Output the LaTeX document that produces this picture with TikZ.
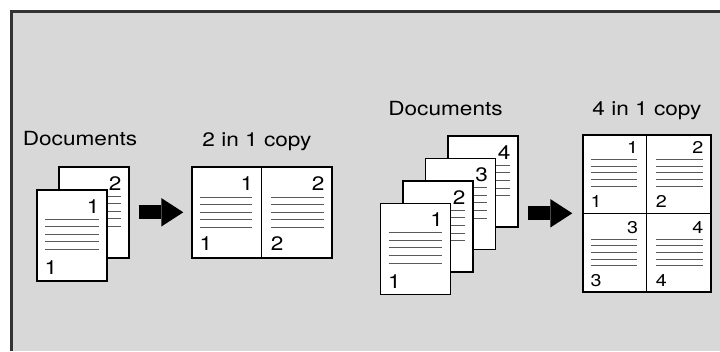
\documentclass[tikz,border=0pt]{standalone}
\usepackage{fontspec}
\setmainfont{TeX Gyre Heros}[FakeStretch=1.16]
\usetikzlibrary{arrows.meta,positioning,calc}
\definecolor{panel}{HTML}{D8D8D8}
\definecolor{frameline}{HTML}{333333}
\definecolor{textline}{HTML}{5A5A5A}
% five text lines and the top page number of one sheet
\newcommand{\sheetmarks}[5]{%
  \foreach \k in {0,...,4}
    \draw[txtline] ([xshift=9pt,yshift={-(#3+#4*\k)*1pt}]#1.north west) -- ([xshift=-9pt,yshift={-(#3+#4*\k)*1pt}]#1.north east);
  \node[#5 top] (#1-top) at (#1.north east) {#2};}
% page number at the foot of a visible sheet
\newcommand{\footnum}[3]{\node[#3 bottom] (#1-bot) at (#1.south west) {#2};}

\begin{document}
\begin{tikzpicture}[x=1pt,y=-1pt,
  docpage/.style={draw=black,line width=1.6pt,fill=white,minimum width=70pt,minimum height=91pt,inner sep=0pt,anchor=north west},
  cellA/.style={minimum width=70pt,minimum height=91pt,inner sep=0pt},
  cellB/.style={minimum width=64pt,minimum height=78.5pt,inner sep=0pt},
  txtline/.style={draw=textline,line width=1pt},
  divider/.style={draw=black,line width=1pt},
  big top/.style={anchor=north east,inner sep=0pt,xshift=-8pt,yshift=-10pt,font=\fontsize{19.5}{20}\selectfont},
  big bottom/.style={anchor=south west,inner sep=0pt,xshift=8.5pt,yshift=6.5pt,font=\fontsize{19.5}{20}\selectfont},
  small top/.style={anchor=north east,inner sep=0pt,xshift=-8pt,yshift=-7.5pt,font=\fontsize{17}{18}\selectfont},
  small bottom/.style={anchor=south west,inner sep=0pt,xshift=8.5pt,yshift=5.5pt,font=\fontsize{17}{18}\selectfont},
  title/.style={anchor=base,inner sep=0pt,font=\fontsize{19.5}{20}\selectfont},
  bigarrow/.style={line width=14.3pt,-{Triangle[length=22pt,width=28.5pt,line width=0pt]},shorten <=9pt}]
\useasboundingbox[fill=white] (0,0) rectangle (720,351);
\fill[panel] (11,11) rectangle (720,351);
\draw[frameline,line width=3pt] (11,351) |- (720,11);
\node[title] (docsA) at (80,145.7) {Documents};
\node[title] (titleA) at (257,146.7) {2 in 1 copy};
\node[title] (docsB) at (445.5,115) {Documents};
\node[title] (titleB) at (647,115) {4 in 1 copy};
% two documents -> 2 in 1 copy
\node[docpage] (docA2) at (58,166) {};
\sheetmarks{docA2}{2}{30}{7.6}{big}
\node[docpage] (docA1) at ([xshift=-22pt,yshift=-23pt]docA2.north west) {};
\sheetmarks{docA1}{1}{30}{7.6}{big}
\footnum{docA1}{1}{big}
\node[docpage,minimum width=140pt] (copyA) at (191,166) {};
\node[cellA,anchor=north west] (copyA1) at (copyA.north west) {};
\node[cellA,anchor=north east] (copyA2) at (copyA.north east) {};
\draw[divider] (copyA.north) -- (copyA.south);
\foreach \c in {1,2}{
  \sheetmarks{copyA\c}{\c}{31}{7.5}{big}
  \footnum{copyA\c}{\c}{big}}
\draw[bigarrow,shorten >=7.7pt] (docA2.east) -- (copyA.west);
% four documents -> 4 in 1 copy
\node[docpage] (docB4) at (447,135) {};
\sheetmarks{docB4}{4}{30}{7.7}{big}
\foreach \i/\j in {3/4,2/3,1/2}{
  \node[docpage] (docB\i) at ([xshift=-22.5pt,yshift=-22.5pt]docB\j.north west) {};
  \sheetmarks{docB\i}{\i}{30}{7.7}{big}}
\footnum{docB1}{1}{big}
\node[docpage,minimum width=128pt,minimum height=157pt] (copyB) at (582,134) {};
\node[cellB,anchor=north west] (copyB1) at (copyB.north west) {};
\node[cellB,anchor=north east] (copyB2) at (copyB.north east) {};
\node[cellB,anchor=south west] (copyB3) at (copyB.south west) {};
\node[cellB,anchor=south east] (copyB4) at (copyB.south east) {};
\draw[divider] (copyB.north) -- (copyB.south) (copyB.west) -- (copyB.east);
\foreach \c in {1,...,4}{
  \sheetmarks{copyB\c}{\c}{25.3}{6.7}{small}
  \footnum{copyB\c}{\c}{small}}
\draw[bigarrow,shorten >=9.7pt] (docB4.east |- copyB.west) -- (copyB.west);
\end{tikzpicture}
\end{document}
